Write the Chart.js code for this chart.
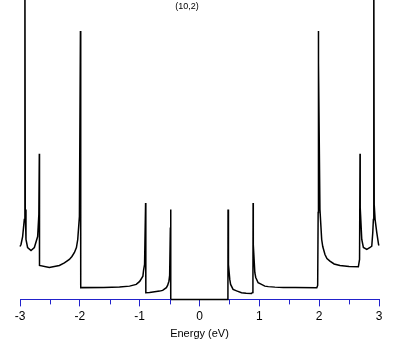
<!DOCTYPE html>
<html>
<head>
<meta charset="utf-8">
<script src="https://cdn.jsdelivr.net/npm/chart.js@4"></script>
<style>
  html, body { margin: 0; padding: 0; background: #fff; }
  #wrap { width: 409px; height: 345px; }
</style>
</head>
<body>
<div id="wrap"><canvas id="dos"></canvas></div>
<script>
// density of states for the (10,2) tube
const label = '(10,2)';
const energy = [
  -3.0, -2.983, -2.956, -2.928, -2.918, -2.912, -2.90, -2.873, -2.816, -2.76, -2.705, -2.685, -2.677, -2.674,
  -2.51, -2.342, -2.258, -2.175, -2.132, -2.09, -2.057, -2.035, -2.007, -1.99, -1.985,
  -1.6, -1.337, -1.169, -1.057, -1.0, -0.946, -0.935, -0.918, -0.901, -0.897,
  -0.834, -0.667, -0.616, -0.554, -0.533, -0.511, -0.499, -0.487, -0.482, -0.479,
  0.0, 0.475,
  0.477, 0.479, 0.489, 0.506, 0.52, 0.561, 0.62, 0.702, 0.78, 0.869, 0.885, 0.893, 0.896, 0.899, 0.925, 0.94,
  0.98, 1.02, 1.092, 1.15, 1.26, 1.4, 1.6, 1.96, 1.975, 1.983, 1.985, 1.992, 2.013, 2.042, 2.06, 2.097,
  2.13, 2.18, 2.25, 2.348, 2.5, 2.655, 2.675, 2.683, 2.686,
  2.712, 2.739, 2.796, 2.851, 2.879, 2.896, 2.906, 2.913, 2.92, 2.935, 2.963, 2.993, 3.0
];
const dos = [
  0.53, 0.55, 0.63, 0.80, 3.5, 0.90, 0.60, 0.52, 0.49, 0.52, 0.63, 0.85, 1.46, 0.34,
  0.32, 0.34, 0.365, 0.40, 0.43, 0.47, 0.52, 0.60, 0.83, 2.69, 0.118,
  0.12, 0.125, 0.133, 0.15, 0.18, 0.233, 0.29, 0.35, 0.967, 0.067,
  0.07, 0.083, 0.09, 0.117, 0.14, 0.183, 0.24, 0.72, 0.90, 0.0,
  0.0, 0.0,
  0.90, 0.55, 0.35, 0.20, 0.15, 0.10, 0.085, 0.067, 0.062, 0.06, 0.07, 0.12, 0.967, 0.55, 0.267, 0.22,
  0.167, 0.155, 0.133, 0.128, 0.123, 0.12, 0.12, 0.117, 0.14, 0.87, 2.69, 2.37, 0.90, 0.60, 0.53, 0.45,
  0.41, 0.383, 0.355, 0.34, 0.33, 0.327, 0.40, 1.46, 0.92,
  0.60, 0.52, 0.50, 0.52, 0.533, 0.67, 0.80, 3.5, 0.95, 0.80, 0.67, 0.55, 0.54
];
const minorTicks = [-2.5, -1.5, -0.5, 0.5, 1.5, 2.5];

const axisBlue = '#2222cc';

const points = energy.map((e, i) => ({ x: e, y: dos[i] }));

// short ticks at the half-volt marks and the little tube label at the top
const extras = {
  id: 'extras',
  afterDraw(chart) {
    const ctx = chart.ctx;
    const xs = chart.scales.x;
    const bottom = chart.chartArea.bottom;
    ctx.save();
    ctx.strokeStyle = axisBlue;
    ctx.lineWidth = 1;
    minorTicks.forEach(v => {
      const px = Math.round(xs.getPixelForValue(v)) + 0.5;
      ctx.beginPath();
      ctx.moveTo(px, bottom);
      ctx.lineTo(px, bottom + 5);
      ctx.stroke();
    });
    ctx.fillStyle = '#000';
    ctx.font = '9px "Liberation Sans"';
    ctx.textAlign = 'center';
    ctx.textBaseline = 'middle';
    ctx.fillText(label, 187, 7);
    ctx.restore();
  }
};

new Chart(document.getElementById('dos').getContext('2d'), {
  type: 'line',
  data: {
    datasets: [{
      data: points,
      borderColor: '#000',
      borderWidth: 1.5,
      pointRadius: 0,
      tension: 0,
      fill: false,
      clip: false,
    }]
  },
  options: {
    responsive: true,
    maintainAspectRatio: false,
    animation: false,
    layout: { padding: { left: 20, right: 30, top: 0, bottom: 0 } },
    scales: {
      x: {
        type: 'linear',
        min: -3,
        max: 3,
        ticks: {
          stepSize: 1,
          color: '#000',
          padding: 3,
          maxRotation: 0,
          font: { family: 'Liberation Sans', size: 12 }
        },
        grid: {
          drawOnChartArea: false,
          drawTicks: true,
          tickLength: 7,
          tickColor: axisBlue,
        },
        border: { color: axisBlue, width: 1 },
        title: {
          display: true,
          text: 'Energy (eV)',
          color: '#000',
          padding: { top: 1, bottom: 4 },
          font: { family: 'Liberation Sans', size: 11 }
        }
      },
      y: {
        display: false,
        min: 0,
        max: 3.0
      }
    },
    plugins: {
      legend: { display: false },
      tooltip: { enabled: false }
    }
  },
  plugins: [extras]
});
</script>
</body>
</html>
